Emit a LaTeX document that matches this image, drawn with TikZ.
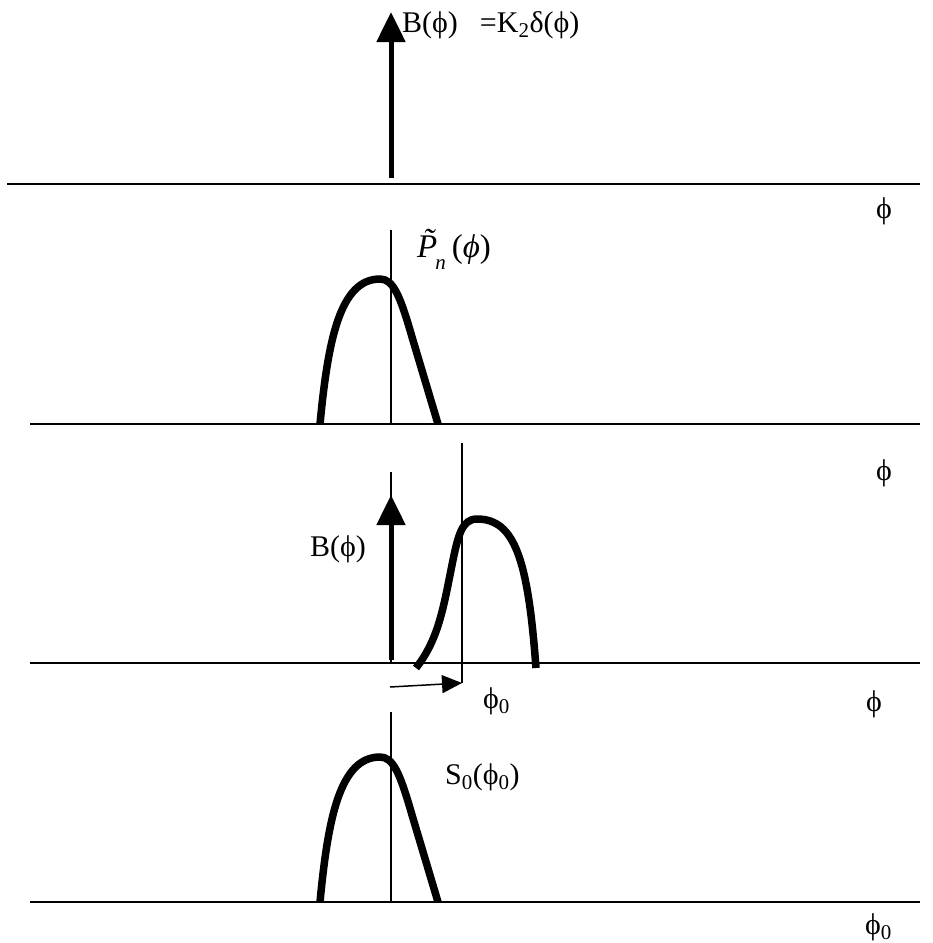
\documentclass[tikz,border=0pt]{standalone}
\usepackage{fontspec}
\setmainfont{Liberation Serif}
\usetikzlibrary{arrows.meta}
\begin{document}
\begin{tikzpicture}[x=1pt,y=-1pt,
  axis/.style={line width=1.8pt},
  thin/.style={line width=1.2pt},
  curve/.style={line width=7.5pt,line join=round},
  bigarrow/.style={line width=5pt,-{Triangle[length=30pt,width=28pt]}},
  smallarrow/.style={line width=1.5pt,-{Triangle[length=20pt,width=18pt]}},
  lbl/.style={inner sep=0pt,font=\fontsize{30}{34}\selectfont}]
\useasboundingbox (0,0) rectangle (933,943);
% axes
\coordinate (ax1l) at (7,184);   \coordinate (ax1r) at (920,184);
\coordinate (ax2l) at (30,424);  \coordinate (ax2r) at (920,424);
\coordinate (ax3l) at (30,663);  \coordinate (ax3r) at (920,663);
\coordinate (ax4l) at (30,902);  \coordinate (ax4r) at (920,902);
\draw[axis] (ax1l) -- (ax1r);
\draw[axis] (ax2l) -- (ax2r);
\draw[axis] (ax3l) -- (ax3r);
\draw[axis] (ax4l) -- (ax4r);
% section 1
\coordinate (a1s) at (391,178); \coordinate (a1e) at (391,12);
\draw[bigarrow] (a1s) -- (a1e);
\node[lbl,anchor=base west] (lb1) at (402,32) {B(ϕ)\hspace{22pt}=K\textsubscript{2}δ(ϕ)};
\node[lbl,anchor=base] (phi1) at (884,218) {ϕ};
% section 2
\coordinate (v2t) at (391,230); \coordinate (v2b) at (391,424);
\draw[thin] (v2t) -- (v2b);
\draw[curve] (320,424) .. controls (328,340) and (340,279) .. (380,279)
  .. controls (393,279) and (400,295) .. (412,337) -- (438,424);
\node[lbl,anchor=base west,font=\fontsize{33}{36}\selectfont] (lbP) at (417,257) {\textit{\~P}\kern-15pt\raisebox{-12pt}{\fontsize{21}{22}\selectfont\itshape n}\kern6pt(\textit{ϕ})};
\node[lbl,anchor=base] (phi2) at (884,480) {ϕ};
% section 3
\coordinate (v3t) at (391,472); \coordinate (v3b) at (391,663);
\draw[thin] (v3t) -- (v3b);
\coordinate (v4t) at (462,443); \coordinate (v4b) at (462,683);
\draw[thin] (v4t) -- (v4b);
\coordinate (a2s) at (391,660); \coordinate (a2e) at (391,495);
\draw[bigarrow] (a2s) -- (a2e);
\draw[curve] (416,668) .. controls (438,640) and (443,610) .. (452,565)
  .. controls (458,535) and (462,519) .. (477,519)
  .. controls (515,519) and (528,560) .. (536,668);
\node[lbl] (lbB) at (338,549) {B(ϕ)};
\coordinate (a3s) at (390,687); \coordinate (a3e) at (462,683);
\draw[smallarrow] (a3s) -- (a3e);
\node[lbl,anchor=base west] (phi0a) at (483,708) {ϕ\textsubscript{0}};
\node[lbl,anchor=base] (phi3) at (874,711) {ϕ};
% section 4
\coordinate (v5t) at (391,712); \coordinate (v5b) at (391,902);
\draw[thin] (v5t) -- (v5b);
\begin{scope}[shift={(0,478)}]
\draw[curve] (320,424) .. controls (328,340) and (340,279) .. (380,279)
  .. controls (393,279) and (400,295) .. (412,337) -- (438,424);
\end{scope}
\node[lbl,anchor=base west] (lbS) at (445,784) {S\textsubscript{0}(ϕ\textsubscript{0})};
\node[lbl,anchor=base west] (phi0b) at (865,934) {ϕ\textsubscript{0}};
\end{tikzpicture}
\end{document}
